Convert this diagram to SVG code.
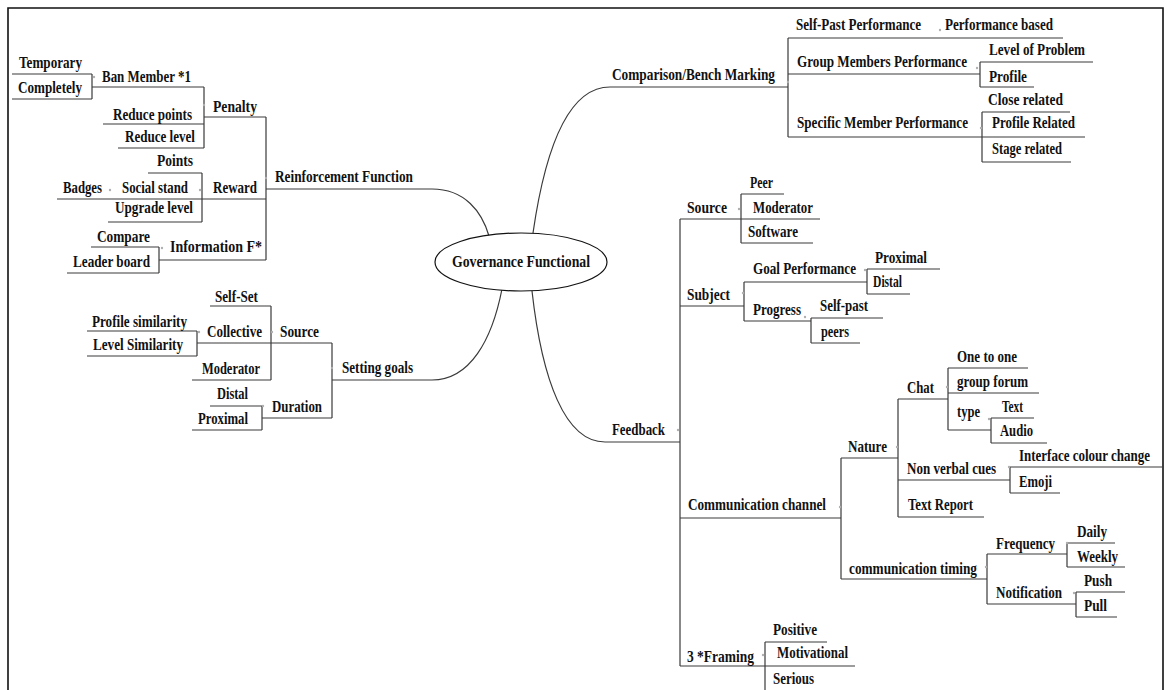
<svg xmlns="http://www.w3.org/2000/svg" width="1168" height="690" viewBox="0 0 1168 690">
  <style>
    text { font-family: "Liberation Serif", "Times New Roman", serif; font-weight: bold; font-size: 16px; fill: #111; }
    .ln { fill: none; stroke: #3a3a3a; stroke-width: 1.2; }
    .frame { fill: none; stroke: #111; stroke-width: 1.6; }
    .dot { fill: #b0b0b0; }
  </style>

  <rect x="0" y="0" width="1168" height="690" fill="#ffffff"/>
  <path class="frame" d="M8 690 V8 H1163 V690"/>

  <!-- connectors: underlines, brackets and curved trunk lines -->
  <g id="connectors">
    <!-- Reinforcement Function branch -->
    <path class="ln" d="M12 74 H92 M12 99 H92 M92 74 V99 M92 87 H204"/>
    <path class="ln" d="M204 87 V148 M103 124 H204 M118 148 H204 M204 117 H266"/>
    <path class="ln" d="M148 173 H202 M202 173 V222 M57 199 H266 M108 222 H202"/>
    <path class="ln" d="M91 247 H159 M67 273 H159 M159 247 V273 M159 260 H266"/>
    <path class="ln" d="M266 117 V260 M266 189 H432 C465 189 482 212 489 236"/>
    <!-- Setting goals branch -->
    <path class="ln" d="M210 306 H271 M271 306 V380 M87 331 H197 M87 356 H197 M197 331 V356 M197 343 H332 M192 380 H271"/>
    <path class="ln" d="M210 406 H262 M192 430 H262 M262 406 V430 M262 418 H332 M332 343 V418"/>
    <path class="ln" d="M332 380 H432 C470 380 492 340 502 289"/>
    <!-- Comparison/Bench Marking branch -->
    <path class="ln" d="M533 233 C545 150 568 87 610 87 H788 M788 38 V137"/>
    <path class="ln" d="M788 38 H1063 M788 74 H980 M980 62 V87 M980 62 H1093 M980 87 H1034"/>
    <path class="ln" d="M788 137 H1085 M982 112 V162 M982 112 H1070 M982 162 H1071"/>
    <!-- Feedback branch -->
    <path class="ln" d="M532 291 C542 380 565 442 605 442 H680 M680 219 V666"/>
    <path class="ln" d="M680 219 H820 M741 194 H784 M741 243 H813 M741 194 V243"/>
    <path class="ln" d="M680 306 H744 M744 282 V321 M744 282 H867 M867 269 V294 M867 269 H940 M867 294 H910"/>
    <path class="ln" d="M744 321 H811 M811 318 V343 M811 318 H883 M811 343 H860"/>
    <path class="ln" d="M680 518 H841 M841 458 V579 M841 458 H898 M898 399 V517"/>
    <path class="ln" d="M898 399 H948 M948 368 V430 M948 368 H1028 M948 393 H1039 M948 430 H991"/>
    <path class="ln" d="M991 418 V443 M991 418 H1034 M991 443 H1047"/>
    <path class="ln" d="M898 480 H1010 M1010 467 V493 M1010 467 H1162 M1010 493 H1060 M898 517 H984"/>
    <path class="ln" d="M841 579 H987 M987 554 V604 M987 554 H1067 M1067 543 V567 M1067 543 H1115 M1067 567 H1125"/>
    <path class="ln" d="M987 604 H1076 M1076 592 V617 M1076 592 H1125 M1076 617 H1117"/>
    <path class="ln" d="M680 666 H855 M765 642 V690 M765 642 H827"/>
    <!-- collapse markers -->
    <g class="dot">
      <circle cx="94" cy="77" r="1.2"/><circle cx="204" cy="105" r="1.2"/>
      <circle cx="110" cy="190" r="1.2"/><circle cx="200" cy="190" r="1.2"/>
      <circle cx="266" cy="178" r="1.2"/><circle cx="162" cy="248" r="1.2"/>
      <circle cx="272" cy="332" r="1.2"/><circle cx="199" cy="332" r="1.2"/>
      <circle cx="332" cy="368" r="1.2"/><circle cx="263" cy="406" r="1.2"/>
      <circle cx="788" cy="82" r="1.2"/><circle cx="940" cy="30" r="1.2"/>
      <circle cx="977" cy="68" r="1.2"/><circle cx="981" cy="128" r="1.2"/>
      <circle cx="678" cy="430" r="1.2"/><circle cx="739" cy="209" r="1.2"/>
      <circle cx="743" cy="293" r="1.2"/><circle cx="865" cy="270" r="1.2"/>
      <circle cx="805" cy="317" r="1.2"/><circle cx="840" cy="507" r="1.2"/>
      <circle cx="897" cy="447" r="1.2"/><circle cx="947" cy="387" r="1.2"/>
      <circle cx="989" cy="419" r="1.2"/><circle cx="1009" cy="467" r="1.2"/>
      <circle cx="986" cy="567" r="1.2"/><circle cx="1067" cy="543" r="1.2"/>
      <circle cx="1074" cy="593" r="1.2"/><circle cx="763" cy="655" r="1.2"/>
    </g>
  </g>

  <!-- central topic -->
  <g id="governance-functional">
    <ellipse cx="521" cy="262" rx="86" ry="29" fill="#fff" stroke="#111" stroke-width="1.2"/>
    <text x="452" y="267" textLength="138" lengthAdjust="spacingAndGlyphs">Governance Functional</text>
  </g>

  <!-- Reinforcement Function -->
  <g id="reinforcement-function"><text x="275" y="182" textLength="138" lengthAdjust="spacingAndGlyphs">Reinforcement Function</text></g>
  <g id="penalty"><text x="213" y="112" textLength="44" lengthAdjust="spacingAndGlyphs">Penalty</text></g>
  <g id="ban-member"><text x="102" y="82" textLength="89" lengthAdjust="spacingAndGlyphs">Ban Member *1</text></g>
  <g id="temporary"><text x="19" y="68" textLength="63" lengthAdjust="spacingAndGlyphs">Temporary</text></g>
  <g id="completely"><text x="18" y="93" textLength="64" lengthAdjust="spacingAndGlyphs">Completely</text></g>
  <g id="reduce-points"><text x="113" y="120" textLength="79" lengthAdjust="spacingAndGlyphs">Reduce points</text></g>
  <g id="reduce-level"><text x="125" y="142" textLength="70" lengthAdjust="spacingAndGlyphs">Reduce level</text></g>
  <g id="reward"><text x="213" y="193" textLength="44" lengthAdjust="spacingAndGlyphs">Reward</text></g>
  <g id="points"><text x="157" y="166" textLength="36" lengthAdjust="spacingAndGlyphs">Points</text></g>
  <g id="social-stand"><text x="122" y="193" textLength="66" lengthAdjust="spacingAndGlyphs">Social stand</text></g>
  <g id="badges"><text x="63" y="193" textLength="39" lengthAdjust="spacingAndGlyphs">Badges</text></g>
  <g id="upgrade-level"><text x="115" y="213" textLength="78" lengthAdjust="spacingAndGlyphs">Upgrade level</text></g>
  <g id="information-f"><text x="170" y="252" textLength="92" lengthAdjust="spacingAndGlyphs">Information F*</text></g>
  <g id="compare"><text x="97" y="242" textLength="53" lengthAdjust="spacingAndGlyphs">Compare</text></g>
  <g id="leader-board"><text x="73" y="267" textLength="77" lengthAdjust="spacingAndGlyphs">Leader board</text></g>

  <!-- Setting goals -->
  <g id="setting-goals"><text x="342" y="373" textLength="71" lengthAdjust="spacingAndGlyphs">Setting goals</text></g>
  <g id="goal-source"><text x="280" y="337" textLength="39" lengthAdjust="spacingAndGlyphs">Source</text></g>
  <g id="self-set"><text x="215" y="302" textLength="43" lengthAdjust="spacingAndGlyphs">Self-Set</text></g>
  <g id="collective"><text x="207" y="337" textLength="55" lengthAdjust="spacingAndGlyphs">Collective</text></g>
  <g id="profile-similarity"><text x="92" y="327" textLength="95" lengthAdjust="spacingAndGlyphs">Profile similarity</text></g>
  <g id="level-similarity"><text x="93" y="350" textLength="90" lengthAdjust="spacingAndGlyphs">Level Similarity</text></g>
  <g id="goal-moderator"><text x="202" y="374" textLength="58" lengthAdjust="spacingAndGlyphs">Moderator</text></g>
  <g id="duration"><text x="272" y="412" textLength="50" lengthAdjust="spacingAndGlyphs">Duration</text></g>
  <g id="duration-distal"><text x="217" y="399" textLength="31" lengthAdjust="spacingAndGlyphs">Distal</text></g>
  <g id="duration-proximal"><text x="198" y="424" textLength="50" lengthAdjust="spacingAndGlyphs">Proximal</text></g>

  <!-- Comparison/Bench Marking -->
  <g id="comparison"><text x="612" y="80" textLength="163" lengthAdjust="spacingAndGlyphs">Comparison/Bench Marking</text></g>
  <g id="self-past-performance"><text x="796" y="30" textLength="125" lengthAdjust="spacingAndGlyphs">Self-Past Performance</text></g>
  <g id="performance-based"><text x="945" y="30" textLength="108" lengthAdjust="spacingAndGlyphs">Performance based</text></g>
  <g id="group-members-performance"><text x="797" y="67" textLength="170" lengthAdjust="spacingAndGlyphs">Group Members Performance</text></g>
  <g id="level-of-problem"><text x="989" y="55" textLength="96" lengthAdjust="spacingAndGlyphs">Level of Problem</text></g>
  <g id="profile"><text x="989" y="82" textLength="38" lengthAdjust="spacingAndGlyphs">Profile</text></g>
  <g id="specific-member-performance"><text x="797" y="128" textLength="171" lengthAdjust="spacingAndGlyphs">Specific Member Performance</text></g>
  <g id="close-related"><text x="988" y="105" textLength="75" lengthAdjust="spacingAndGlyphs">Close related</text></g>
  <g id="profile-related"><text x="992" y="128" textLength="83" lengthAdjust="spacingAndGlyphs">Profile Related</text></g>
  <g id="stage-related"><text x="992" y="154" textLength="70" lengthAdjust="spacingAndGlyphs">Stage related</text></g>

  <!-- Feedback -->
  <g id="feedback"><text x="612" y="435" textLength="53" lengthAdjust="spacingAndGlyphs">Feedback</text></g>
  <g id="feedback-source"><text x="687" y="213" textLength="40" lengthAdjust="spacingAndGlyphs">Source</text></g>
  <g id="peer"><text x="750" y="188" textLength="23" lengthAdjust="spacingAndGlyphs">Peer</text></g>
  <g id="feedback-moderator"><text x="753" y="213" textLength="60" lengthAdjust="spacingAndGlyphs">Moderator</text></g>
  <g id="software"><text x="748" y="237" textLength="50" lengthAdjust="spacingAndGlyphs">Software</text></g>
  <g id="subject"><text x="687" y="300" textLength="43" lengthAdjust="spacingAndGlyphs">Subject</text></g>
  <g id="goal-performance"><text x="753" y="274" textLength="103" lengthAdjust="spacingAndGlyphs">Goal Performance</text></g>
  <g id="goal-proximal"><text x="875" y="263" textLength="52" lengthAdjust="spacingAndGlyphs">Proximal</text></g>
  <g id="goal-distal"><text x="873" y="287" textLength="29" lengthAdjust="spacingAndGlyphs">Distal</text></g>
  <g id="progress"><text x="753" y="315" textLength="48" lengthAdjust="spacingAndGlyphs">Progress</text></g>
  <g id="self-past"><text x="820" y="311" textLength="48" lengthAdjust="spacingAndGlyphs">Self-past</text></g>
  <g id="peers"><text x="821" y="337" textLength="28" lengthAdjust="spacingAndGlyphs">peers</text></g>
  <g id="communication-channel"><text x="688" y="510" textLength="138" lengthAdjust="spacingAndGlyphs">Communication channel</text></g>
  <g id="nature"><text x="848" y="452" textLength="39" lengthAdjust="spacingAndGlyphs">Nature</text></g>
  <g id="chat"><text x="907" y="393" textLength="27" lengthAdjust="spacingAndGlyphs">Chat</text></g>
  <g id="one-to-one"><text x="957" y="362" textLength="60" lengthAdjust="spacingAndGlyphs">One to one</text></g>
  <g id="group-forum"><text x="957" y="387" textLength="71" lengthAdjust="spacingAndGlyphs">group forum</text></g>
  <g id="type"><text x="957" y="417" textLength="23" lengthAdjust="spacingAndGlyphs">type</text></g>
  <g id="type-text"><text x="1002" y="412" textLength="21" lengthAdjust="spacingAndGlyphs">Text</text></g>
  <g id="type-audio"><text x="1000" y="436" textLength="33" lengthAdjust="spacingAndGlyphs">Audio</text></g>
  <g id="non-verbal-cues"><text x="907" y="474" textLength="89" lengthAdjust="spacingAndGlyphs">Non verbal cues</text></g>
  <g id="interface-colour-change"><text x="1019" y="461" textLength="131" lengthAdjust="spacingAndGlyphs">Interface colour change</text></g>
  <g id="emoji"><text x="1019" y="487" textLength="33" lengthAdjust="spacingAndGlyphs">Emoji</text></g>
  <g id="text-report"><text x="908" y="510" textLength="65" lengthAdjust="spacingAndGlyphs">Text Report</text></g>
  <g id="communication-timing"><text x="849" y="574" textLength="128" lengthAdjust="spacingAndGlyphs">communication timing</text></g>
  <g id="frequency"><text x="996" y="549" textLength="59" lengthAdjust="spacingAndGlyphs">Frequency</text></g>
  <g id="daily"><text x="1077" y="537" textLength="30" lengthAdjust="spacingAndGlyphs">Daily</text></g>
  <g id="weekly"><text x="1077" y="562" textLength="41" lengthAdjust="spacingAndGlyphs">Weekly</text></g>
  <g id="notification"><text x="996" y="598" textLength="66" lengthAdjust="spacingAndGlyphs">Notification</text></g>
  <g id="push"><text x="1084" y="586" textLength="28" lengthAdjust="spacingAndGlyphs">Push</text></g>
  <g id="pull"><text x="1084" y="611" textLength="23" lengthAdjust="spacingAndGlyphs">Pull</text></g>
  <g id="framing"><text x="687" y="662" textLength="67" lengthAdjust="spacingAndGlyphs">3 *Framing</text></g>
  <g id="positive"><text x="773" y="635" textLength="44" lengthAdjust="spacingAndGlyphs">Positive</text></g>
  <g id="motivational"><text x="777" y="658" textLength="71" lengthAdjust="spacingAndGlyphs">Motivational</text></g>
  <g id="serious"><text x="773" y="684" textLength="41" lengthAdjust="spacingAndGlyphs">Serious</text></g>
</svg>
